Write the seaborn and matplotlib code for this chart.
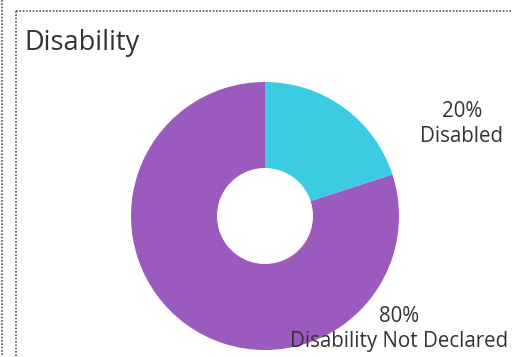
import matplotlib
matplotlib.use("Agg")
import matplotlib.pyplot as plt
from matplotlib.lines import Line2D
import seaborn as sns

categories = ["Disabled", "Disability Not Declared"]
shares = [20, 80]
colors = ["#3bcbe3", "#9a5abe"]

sns.set_theme(style="white")
plt.rcParams['font.family'] = ['Open Sans', 'DejaVu Sans']

W, H = 512, 357
fig = plt.figure(figsize=(W / 100, H / 100), dpi=100)

def px(x, y):
    return x / W, 1 - y / H

# dotted frame lines
for (x0, y0), (x1, y1) in [((2, 0), (2, H)), ((16, 11), (16, H)), ((16, 11), (W, 11))]:
    a, b = px(x0, y0)
    c, d = px(x1, y1)
    fig.add_artist(Line2D([a, c], [b, d], transform=fig.transFigure,
                          color="#555555", lw=1.2, linestyle=(0, (1, 1))))

fig.text(*px(24, 43), "Disability", fontsize=19.5, color="#333333", va="center", ha="left")

# donut
cx, cy, r = 265, 216, 134
ax = fig.add_axes([(cx - r) / W, (H - cy - r) / H, 2 * r / W, 2 * r / H])
ax.pie(shares, colors=colors, startangle=90, counterclock=False,
       radius=1, wedgeprops=dict(width=1 - 48 / 134, linewidth=0))
ax.set_xlim(-1, 1)
ax.set_ylim(-1, 1)
ax.set_aspect("equal")
ax.axis("off")

label_pos = [(462, 124), (399, 329)]
for (x, y), name, val in zip(label_pos, categories, shares):
    fig.text(*px(x, y), f"{val}%\n{name}", ha="center", va="center",
             fontsize=14.8, color="#333333", linespacing=1.3)

fig.savefig("out.png", dpi=100)
